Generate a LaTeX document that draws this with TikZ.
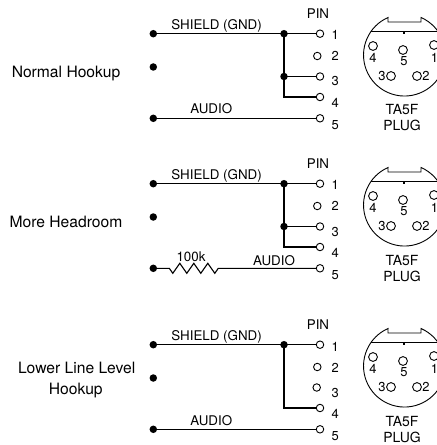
\documentclass[tikz,border=0pt]{standalone}
\usepackage{fontspec}
\setmainfont{TeX Gyre Heros}
\newcommand{\plugshape}{%
  \draw[plugline] (421,17.5) arc[start angle=66.3,end angle=-246.3,radius=41bp] -- (388,22) -- (421,22) -- cycle;
  \draw[plugline] (371.3,31) -- (437.7,31);
  \fill (402.5,32) rectangle (404.5,34);
  \foreach \px/\py in {373/46,403/50,434/45,391/76,417/76}{\draw[plugline] (\px,\py) circle[radius=4.4bp];}
  \node[glab] (g4) at (373,58) {4};
  \node[glab] (g5) at (404,61) {5};
  \node[glab] (g1) at (434.5,58) {1};
  \node[glab] (g3) at (382,76) {3};
  \node[glab] (g2) at (426,76) {2};
  \node[plugtxt] (ta) at (402,115) {TA5F};
  \node[plugtxt] (pl) at (402,131) {PLUG};
}
\newcommand{\commonpart}{%
  \node[dotn] (sl) at (153.3,33.7) {};
  \node[dotn] (sm) at (153.3,67) {};
  \node[dotn] (sa) at (153.3,118.3) {};
  \node[dotn] (j1) at (284,33.7) {};
  \coordinate (c4) at (284,97);
  \node[pinn] (p1) at (320,33.7) {};
  \node[pinn] (p2) at (317.3,56) {};
  \node[pinn] (p4) at (320,97) {};
  \node[pinn] (p5) at (320,118.3) {};
  \node[plab] (l1) at (331,40) {1};
  \node[plab] (l2) at (331,61) {2};
  \node[plab] (l3) at (331,86) {3};
  \node[plab] (l4) at (331,107.5) {4};
  \node[plab] (l5) at (331,129.3) {5};
  \node[wlab] (pin) at (318,18.3) {PIN};
  \node[wlab] (shl) at (216.5,29.1) {SHIELD (GND)};
  \draw (sl.center) -- (j1.center) -- (p1);
  \draw (j1.center) -- (c4) -- (p4);
  \plugshape
}
\begin{document}
\begin{tikzpicture}[x=1bp,y=-1bp,line width=1.1bp,
  dotn/.style={circle,fill=black,draw=none,inner sep=0pt,minimum size=7.5bp},
  pinn/.style={circle,draw,fill=white,inner sep=0pt,minimum size=7.5bp,line width=0.9bp},
  wlab/.style={font=\fontsize{13.4}{15}\selectfont,inner sep=0pt,anchor=base},
  plab/.style={font=\fontsize{13}{15}\selectfont,inner sep=0pt,anchor=base west},
  hlab/.style={font=\fontsize{15.7}{19}\selectfont,inner sep=0pt,anchor=base},
  glab/.style={font=\fontsize{13}{15}\selectfont,inner sep=0pt},
  plugtxt/.style={font=\fontsize{14}{16}\selectfont,inner sep=0pt,anchor=base},
  plugline/.style={line width=0.9bp}]
\clip (0,0) rectangle (437,445);
\fill[white] (0,0) rectangle (437,445);
% Panel 1
\begin{scope}[name prefix=a-]
  \commonpart
  \node[dotn] (j3) at (284,76.5) {};
  \node[pinn] (p3) at (320,76.5) {};
  \draw (j3.center) -- (p3);
  \draw (sa.center) -- (p5);
  \node[wlab] (aud) at (211.3,114) {AUDIO};
  \node[hlab] (hd) at (66,77.3) {Normal Hookup};
\end{scope}
% Panel 2
\begin{scope}[shift={(0,150)},name prefix=b-]
  \commonpart
  \node[dotn] (j3) at (284,76.5) {};
  \node[pinn] (p3) at (320,76.5) {};
  \draw (j3.center) -- (p3);
  \coordinate (r0) at (169.3,118.3);
  \coordinate (r1) at (218.3,118.3);
  \draw (sa.center) -- (r0) -- ++(3.5,5) -- ++(7,-10) -- ++(7,10) -- ++(7,-10) -- ++(7,10) -- ++(7,-10) -- ++(7,10) -- (r1) -- (p5);
  \node[wlab] (res) at (191,111.7) {100k};
  \node[wlab] (aud) at (274,115) {AUDIO};
  \node[hlab] (hd) at (66,77.3) {More Headroom};
\end{scope}
% Panel 3
\begin{scope}[shift={(0,311)},name prefix=c-]
  \commonpart
  \node[pinn] (p3) at (316.7,76.5) {};
  \draw (sa.center) -- (p5);
  \node[wlab] (aud) at (211.3,114) {AUDIO};
  \node[hlab] (hd) at (76.7,62) {Lower Line Level};
  \node[hlab] (hd2) at (75.8,83) {Hookup};
\end{scope}
\end{tikzpicture}
\end{document}
